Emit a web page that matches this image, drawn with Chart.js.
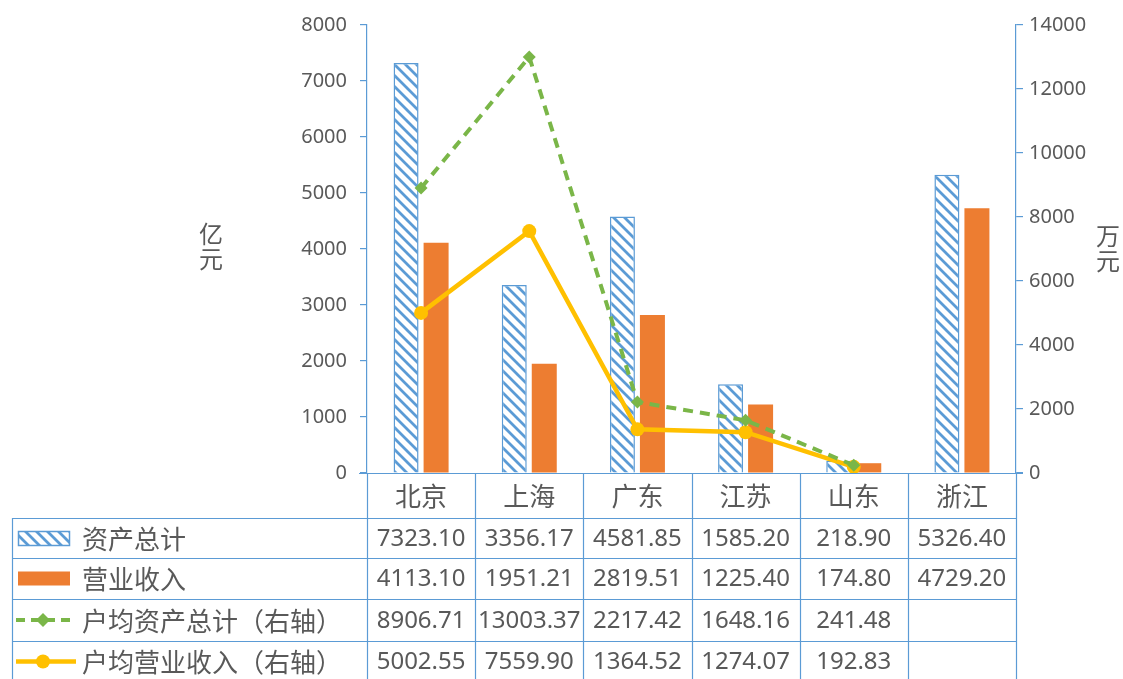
<!DOCTYPE html>
<html><head><meta charset="utf-8">
<script src="https://cdn.jsdelivr.net/npm/chart.js@4"></script>
<style>html,body{margin:0;padding:0;background:#fff;} canvas{display:block;}</style>
</head><body>
<canvas id="c" width="1123" height="679"></canvas>
<script>
const categories = ['北京','上海','广东','江苏','山东','浙江'];
const totalAssets = [7323.10, 3356.17, 4581.85, 1585.20, 218.90, 5326.40];
const revenue = [4113.10, 1951.21, 2819.51, 1225.40, 174.80, 4729.20];
const avgAssets = [8906.71, 13003.37, 2217.42, 1648.16, 241.48, null];
const avgRevenue = [5002.55, 7559.90, 1364.52, 1274.07, 192.83, null];
const seriesNames = ['资产总计','营业收入','户均资产总计（右轴）','户均营业收入（右轴）'];
const leftAxisTitle = '亿元';
const rightAxisTitle = '万元';

const BLUE = '#5B9BD5', ORANGE = '#ED7D31', GREEN = '#7AB648', GOLD = '#FFC000', TXT = '#595959';
const NUMFONT = '"Noto Sans", "Noto Sans CJK SC", sans-serif';
const CJKFONT = '"Noto Sans CJK SC", "Noto Sans", sans-serif';

function makeHatch(ctx){
  const s = 11;
  const c = document.createElement('canvas'); c.width = s; c.height = s;
  const x = c.getContext('2d');
  x.fillStyle = '#fff'; x.fillRect(0,0,s,s);
  x.strokeStyle = BLUE; x.lineWidth = 2.8;
  x.beginPath();
  x.moveTo(-3,-3); x.lineTo(s+3,s+3);
  x.moveTo(-3,s-3); x.lineTo(3,s+3);
  x.moveTo(s-3,-3); x.lineTo(s+3,3);
  x.stroke();
  return ctx.createPattern(c,'repeat');
}
const canvas = document.getElementById('c');
const hatch = makeHatch(canvas.getContext('2d'));

const tablePlugin = {
  id: 'tablePlugin',
  beforeDraw(chart){
    const ctx = chart.ctx;
    ctx.save(); ctx.fillStyle = '#fff'; ctx.fillRect(0,0,chart.width,chart.height); ctx.restore();
  },
  afterDraw(chart){
    const ctx = chart.ctx;
    const xs = chart.scales.x;
    const area = chart.chartArea;
    const n = categories.length;
    const cw = (area.right - area.left) / n;
    const top = area.bottom;
    const rowY = [top, 518, 558, 599, 641, 682];
    const leftX = 12;
    ctx.save();
    ctx.strokeStyle = BLUE; ctx.lineWidth = 1.2;
    ctx.beginPath(); ctx.moveTo(area.left - 8, top + 0.5); ctx.lineTo(area.right + 7, top + 0.5); ctx.stroke();
    for (let r = 1; r < rowY.length; r++){
      ctx.beginPath(); ctx.moveTo(leftX, rowY[r] + 0.5); ctx.lineTo(area.right, rowY[r] + 0.5); ctx.stroke();
    }
    ctx.beginPath(); ctx.moveTo(leftX + 0.5, rowY[1]); ctx.lineTo(leftX + 0.5, chart.height); ctx.stroke();
    for (let i = 0; i <= n; i++){
      const x = Math.round(area.left + i * cw) + 0.5;
      ctx.beginPath(); ctx.moveTo(x, top); ctx.lineTo(x, chart.height); ctx.stroke();
    }
    ctx.fillStyle = TXT; ctx.textAlign = 'center'; ctx.textBaseline = 'middle';
    ctx.font = '26px ' + CJKFONT;
    categories.forEach((c, i) => {
      ctx.fillText(c, xs.getPixelForValue(i), (rowY[0] + rowY[1]) / 2 + 1);
    });
    const rows = [totalAssets, revenue, avgAssets, avgRevenue];
    ctx.font = '24px ' + NUMFONT;
    rows.forEach((arr, r) => {
      const cy = (rowY[r+1] + rowY[r+2]) / 2 + 1;
      arr.forEach((v, i) => {
        if (v === null || v === undefined) return;
        ctx.fillText(v.toFixed(2), area.left + (i + 0.5) * cw, cy);
      });
    });
    ctx.textAlign = 'left';
    ctx.font = '26px ' + CJKFONT;
    seriesNames.forEach((s, r) => {
      const cy = (rowY[r+1] + rowY[r+2]) / 2;
      ctx.fillStyle = TXT;
      ctx.fillText(s, 82, cy + 1);
    });
    let cy = (rowY[1] + rowY[2]) / 2;
    ctx.fillStyle = hatch; ctx.fillRect(18, cy - 7, 52, 15);
    ctx.strokeStyle = BLUE; ctx.lineWidth = 1.5; ctx.strokeRect(18.5, cy - 6.5, 51, 14);
    cy = (rowY[2] + rowY[3]) / 2;
    ctx.fillStyle = ORANGE; ctx.fillRect(18, cy - 7, 52, 14);
    cy = (rowY[3] + rowY[4]) / 2;
    ctx.strokeStyle = GREEN; ctx.lineWidth = 4; ctx.setLineDash([9,6]);
    ctx.beginPath(); ctx.moveTo(16, cy); ctx.lineTo(76, cy); ctx.stroke();
    ctx.setLineDash([]);
    ctx.fillStyle = GREEN; ctx.beginPath();
    ctx.moveTo(43, cy - 7); ctx.lineTo(50, cy); ctx.lineTo(43, cy + 7); ctx.lineTo(36, cy); ctx.closePath(); ctx.fill();
    cy = (rowY[4] + rowY[5]) / 2;
    ctx.strokeStyle = GOLD; ctx.lineWidth = 4.5;
    ctx.beginPath(); ctx.moveTo(16, cy); ctx.lineTo(76, cy); ctx.stroke();
    ctx.fillStyle = GOLD; ctx.beginPath(); ctx.arc(43, cy, 7, 0, Math.PI * 2); ctx.fill();
    ctx.fillStyle = TXT; ctx.textAlign = 'center'; ctx.font = '24px ' + CJKFONT;
    [...leftAxisTitle].forEach((ch, k) => ctx.fillText(ch, 211, 234 + k * 25));
    [...rightAxisTitle].forEach((ch, k) => ctx.fillText(ch, 1108, 236 + k * 25));
    ctx.restore();
  }
};

new Chart(canvas, {
  type: 'bar',
  data: {
    labels: categories,
    datasets: [
      { type: 'line', label: seriesNames[2], data: avgAssets, yAxisID: 'y1', order: 0,
        borderColor: GREEN, borderWidth: 4, borderDash: [10, 7], tension: 0, fill: false,
        pointStyle: 'rectRot', pointRadius: 6.5, pointBackgroundColor: GREEN, pointBorderColor: GREEN, pointBorderWidth: 0 },
      { type: 'line', label: seriesNames[3], data: avgRevenue, yAxisID: 'y1', order: 1,
        borderColor: GOLD, borderWidth: 4.5, tension: 0, fill: false,
        pointStyle: 'circle', pointRadius: 7, pointBackgroundColor: GOLD, pointBorderColor: GOLD, pointBorderWidth: 0 },
      { label: seriesNames[0], data: totalAssets, yAxisID: 'y', order: 2,
        backgroundColor: hatch, borderColor: BLUE, borderWidth: 1.5,
        categoryPercentage: 0.555, barPercentage: 0.833 },
      { label: seriesNames[1], data: revenue, yAxisID: 'y', order: 3,
        backgroundColor: ORANGE, borderWidth: 0,
        categoryPercentage: 0.555, barPercentage: 0.833 }
    ]
  },
  options: {
    responsive: false, animation: false, devicePixelRatio: 1,
    layout: { padding: { left: 291, right: 22, top: 25, bottom: 206 } },
    plugins: { legend: { display: false }, tooltip: { enabled: false } },
    scales: {
      x: { display: false, offset: true },
      y: {
        position: 'left', min: 0, max: 8000,
        ticks: { stepSize: 1000, color: TXT, padding: 13, font: { family: NUMFONT, size: 20 }, callback: v => String(v) },
        grid: { display: true, drawOnChartArea: false, drawTicks: true, tickLength: 7, color: BLUE, lineWidth: 1.2 },
        border: { display: true, color: BLUE, width: 1.2 },
        afterFit: s => { s.width = 76; }
      },
      y1: {
        position: 'right', min: 0, max: 14000,
        ticks: { stepSize: 2000, color: TXT, padding: 6, font: { family: NUMFONT, size: 20 }, callback: v => String(v) },
        grid: { display: true, drawOnChartArea: false, drawTicks: true, tickLength: 7, color: BLUE, lineWidth: 1.2 },
        border: { display: true, color: BLUE, width: 1.2 },
        afterFit: s => { s.width = 85; }
      }
    }
  },
  plugins: [tablePlugin]
});
</script>
</body></html>
